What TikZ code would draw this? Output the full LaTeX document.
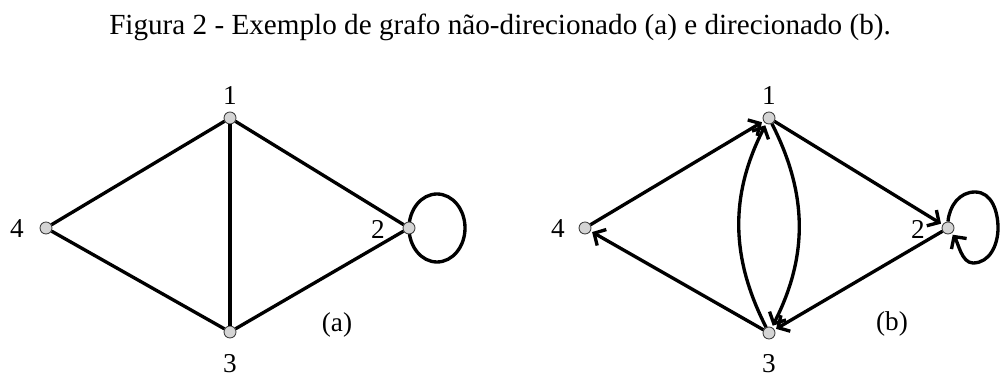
\documentclass[tikz,border=0pt]{standalone}
\usepackage{fontspec}
\setmainfont{Liberation Serif}
\usetikzlibrary{arrows.meta}
\pgfdeclarelayer{bg}
\pgfsetlayers{bg,main}
\begin{document}
\begin{tikzpicture}[x=0.02cm,y=0.02cm,
  vtx/.style={circle,draw=black!75,line width=0.5pt,fill=black!17,minimum size=0.24cm,inner sep=0pt},
  lbl/.style={font=\fontsize{15.5}{18}\selectfont,inner sep=0pt},
  edge/.style={line width=1.9pt},
  arr/.style={edge,-{Straight Barb[length=5pt,width=10.5pt]},shorten >=1pt}]
\useasboundingbox (0,0) rectangle (1000,378);
\node[anchor=base,font=\fontsize{16.6}{20}\selectfont,inner sep=0pt] (cap) at (500,343)
  {Figura 2 - Exemplo de grafo não-direcionado (a) e direcionado (b).};
% (a)
\node[vtx] (a1) at (230,260) {};
\node[vtx] (a4) at (46,150) {};
\node[vtx] (a2) at (409,150) {};
\node[vtx] (a3) at (230,46) {};
\node[lbl] (la1) at (230,282) {1};
\node[lbl] (la4) at (17,149) {4};
\node[lbl] (la2) at (378,149) {2};
\node[lbl] (la3) at (230,14) {3};
\node[lbl] (lta) at (337,53) {(a)};
\draw[edge] (a4) -- (a1);
\draw[edge] (a4) -- (a3);
\draw[edge] (a1) -- (a3);
\draw[edge] (a1) -- (a2);
\draw[edge] (a3) -- (a2);
\begin{pgfonlayer}{bg}
\draw[edge] (a2.center) ++(28,0) ellipse[x radius=28,y radius=34];
\end{pgfonlayer}
% (b)
\node[vtx] (b1) at (769,260) {};
\node[vtx] (b4) at (585,150) {};
\node[vtx] (b2) at (948,150) {};
\node[vtx] (b3) at (769,45) {};
\node[lbl] (lb1) at (769,282) {1};
\node[lbl] (lb4) at (558,149) {4};
\node[lbl] (lb2) at (918,149) {2};
\node[lbl] (lb3) at (769,14) {3};
\node[lbl] (ltb) at (892,54) {(b)};
\draw[arr] (b4) -- (b1);
\draw[arr] (b3) -- (b4);
\draw[arr] (b1) -- (b2);
\draw[arr] (b2) -- (b3);
\draw[arr] (b3) to[bend left=27] (b1);
\draw[arr] (b1) to[bend left=27] (b3);
\coordinate (t) at (975,186);
\coordinate (r) at (998,150);
\coordinate (u) at (973,115);
\draw[arr] (b2.north) to[out=85,in=180] (t) to[out=0,in=90] (r) to[out=-90,in=0] (u) to[out=180,in=-55,looseness=0.8] (b2);
\end{tikzpicture}
\end{document}
